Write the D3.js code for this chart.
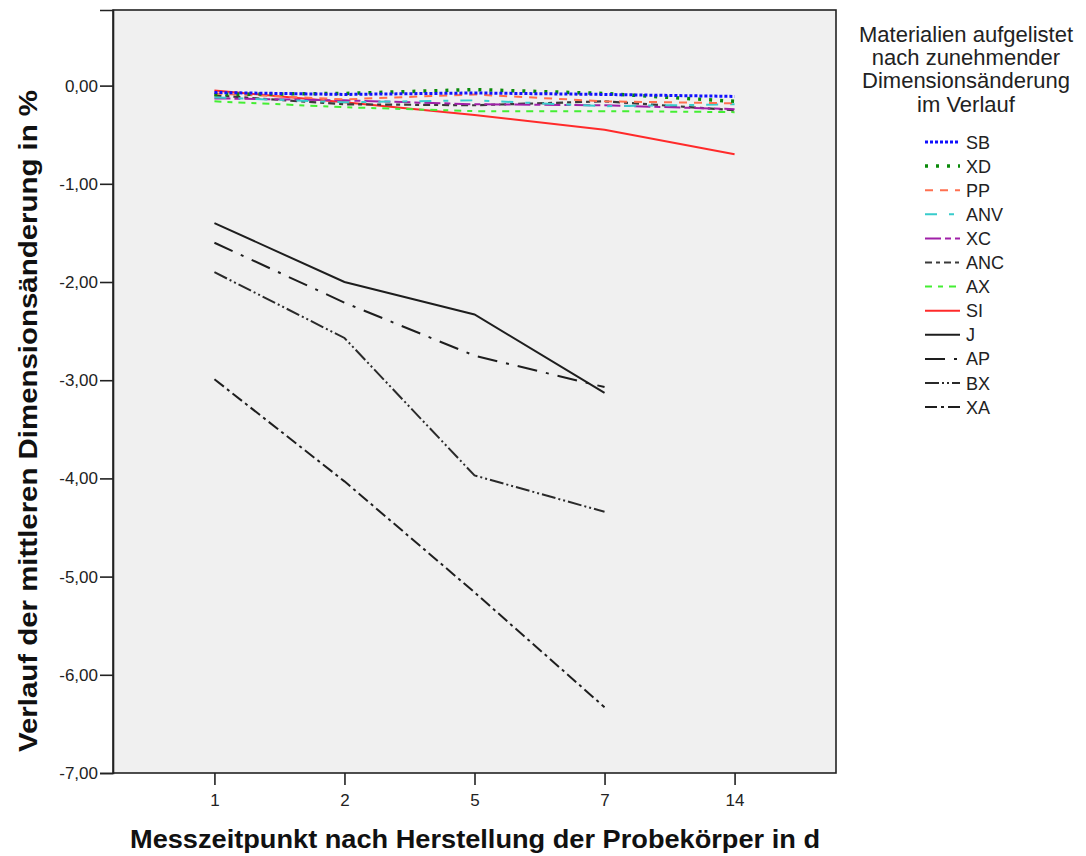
<!DOCTYPE html>
<html>
<head>
<meta charset="utf-8">
<script src="https://cdn.jsdelivr.net/npm/d3@7"></script>
<style>
  body { margin: 0; background: #fff; }
  svg { font-family: Arial, "Liberation Sans", sans-serif; }
</style>
</head>
<body>
<div id="chart"></div>
<script>
// Messzeitpunkte (Tage)
const days = ['1', '2', '5', '7', '14'];
const yTicks = [0, -1, -2, -3, -4, -5, -6, -7];

// mittlere Dimensionsänderung in % je Material
const SB  = [-0.07, -0.09, -0.075, -0.09, -0.11];
const XD  = [-0.09, -0.08, -0.04, -0.08, -0.16];
const PP  = [-0.08, -0.14, -0.09, -0.16, -0.18];
const ANV = [-0.12, -0.17, -0.15, -0.21, -0.19];
const XC  = [-0.13, -0.15, -0.19, -0.20, -0.24];
const ANC = [-0.10, -0.19, -0.20, -0.16, -0.25];
const AX  = [-0.16, -0.22, -0.26, -0.26, -0.27];
const SI  = [-0.05, -0.17, -0.30, -0.45, -0.70];
const J   = [-1.40, -2.00, -2.33, -3.13];
const AP  = [-1.60, -2.21, -2.75, -3.07];
const BX  = [-1.90, -2.57, -3.97, -4.34];
const XA  = [-2.99, -4.03, -5.16, -6.33];

const materials = ['SB', 'XD', 'PP', 'ANV', 'XC', 'ANC', 'AX', 'SI', 'J', 'AP', 'BX', 'XA'];
const values = { SB, XD, PP, ANV, XC, ANC, AX, SI, J, AP, BX, XA };

const styles = {
  SB:  { color: '#1010ff', width: 3,   dash: '3,2' },
  XD:  { color: '#0a8a0a', width: 3.5, dash: '3,8' },
  PP:  { color: '#ff7050', width: 2,   dash: '8,7' },
  ANV: { color: '#38cccc', width: 2,   dash: '12,12,5,12' },
  XC:  { color: '#a020a8', width: 2,   dash: '16,4,6,4' },
  ANC: { color: '#3a3a3a', width: 2.2, dash: '7,4,4,4' },
  AX:  { color: '#44ee33', width: 2,   dash: '7,6,5,6' },
  SI:  { color: '#ff2a2a', width: 2,   dash: null },
  J:   { color: '#1e1e1e', width: 2,   dash: null },
  AP:  { color: '#1e1e1e', width: 2,   dash: '20,9,3,9' },
  BX:  { color: '#2a2a2a', width: 2,   dash: '14,3,2,3,2,3' },
  XA:  { color: '#1e1e1e', width: 2,   dash: '12,4,3,4' }
};

const W = 1086, H = 856;
const frame = { left: 113, right: 836, top: 10, bottom: 773 };

const svg = d3.select('#chart').append('svg')
  .attr('width', W).attr('height', H);

const x = d3.scalePoint()
  .domain(days)
  .range([frame.left, frame.right])
  .padding(0.78);

const y = d3.scaleLinear()
  .domain([-7, 0.77])
  .range([frame.bottom, frame.top]);

// plot background
svg.append('rect')
  .attr('x', frame.left).attr('y', frame.top)
  .attr('width', frame.right - frame.left)
  .attr('height', frame.bottom - frame.top)
  .attr('fill', '#f0f0f0')
  .attr('stroke', '#222')
  .attr('stroke-width', 1.6);

// y axis
const yAxis = svg.append('g')
  .attr('transform', `translate(${frame.left},0)`)
  .call(d3.axisLeft(y).tickValues(yTicks).tickSize(13).tickPadding(2)
    .tickFormat(d => d3.format('.2f')(d).replace('.', ',').replace('−', '-')));
yAxis.select('.domain').attr('stroke', '#222').attr('stroke-width', 1.6);
yAxis.selectAll('.tick line').attr('stroke', '#222').attr('stroke-width', 1.6);
yAxis.selectAll('.tick text').attr('font-size', 17).attr('fill', '#222')
  .attr('font-family', 'Arial, "Liberation Sans", sans-serif');

// x axis
const xAxis = svg.append('g')
  .attr('transform', `translate(0,${frame.bottom})`)
  .call(d3.axisBottom(x).tickSize(12).tickPadding(9));
xAxis.select('.domain').remove();
xAxis.selectAll('.tick line').attr('stroke', '#222').attr('stroke-width', 1.6);
xAxis.selectAll('.tick text').attr('font-size', 17).attr('fill', '#222')
  .attr('font-family', 'Arial, "Liberation Sans", sans-serif');

// axis titles
svg.append('text')
  .attr('x', 475)
  .attr('y', 848)
  .attr('text-anchor', 'middle')
  .attr('font-size', 26)
  .attr('font-weight', 'bold')
  .attr('fill', '#111')
  .attr('textLength', 690)
  .attr('lengthAdjust', 'spacingAndGlyphs')
  .text('Messzeitpunkt nach Herstellung der Probekörper in d');

svg.append('text')
  .attr('transform', 'translate(37,421) rotate(-90)')
  .attr('text-anchor', 'middle')
  .attr('font-size', 26)
  .attr('font-weight', 'bold')
  .attr('fill', '#111')
  .attr('textLength', 662)
  .attr('lengthAdjust', 'spacingAndGlyphs')
  .text('Verlauf der mittleren Dimensionsänderung in %');

// lines
const line = d3.line()
  .x((d, i) => x(days[i]))
  .y(d => y(d));

const drawOrder = ['XA', 'BX', 'AP', 'J', 'SI', 'AX', 'ANC', 'XC', 'ANV', 'PP', 'XD', 'SB'];
svg.append('g').selectAll('path')
  .data(drawOrder)
  .join('path')
    .attr('d', k => line(values[k]))
    .attr('fill', 'none')
    .attr('stroke', k => styles[k].color)
    .attr('stroke-width', k => styles[k].width)
    .attr('stroke-dasharray', k => styles[k].dash);

// legend
const legendTitle = ['Materialien aufgelistet', 'nach zunehmender', 'Dimensionsänderung', 'im Verlauf'];
const lg = svg.append('g');
lg.selectAll('text.title')
  .data(legendTitle)
  .join('text')
    .attr('class', 'title')
    .attr('x', 966)
    .attr('y', (d, i) => 42 + i * 23.2)
    .attr('text-anchor', 'middle')
    .attr('font-size', 22)
    .attr('fill', '#222')
    .text(d => d);

const items = lg.selectAll('g.item')
  .data(materials)
  .join('g')
    .attr('class', 'item')
    .attr('transform', (d, i) => `translate(0,${142 + i * 24.1})`);

items.append('line')
  .attr('x1', 925).attr('x2', 960)
  .attr('y1', 0).attr('y2', 0)
  .attr('stroke', k => styles[k].color)
  .attr('stroke-width', k => styles[k].width)
  .attr('stroke-dasharray', k => styles[k].dash);

items.append('text')
  .attr('x', 966)
  .attr('y', 6.5)
  .attr('font-size', 18)
  .attr('fill', '#222')
  .text(d => d);
</script>
</body>
</html>
